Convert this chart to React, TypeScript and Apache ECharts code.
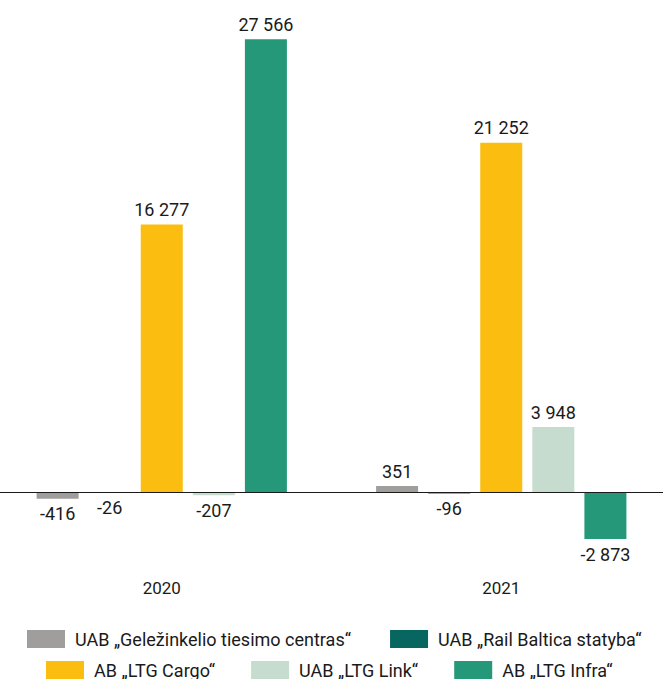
import React, { useEffect, useRef } from "react";
import * as echarts from "echarts";

const years = ["2020", "2021"];
const seriesNames = [
  "UAB „Geležinkelio tiesimo centras“",
  "UAB „Rail Baltica statyba“",
  "AB „LTG Cargo“",
  "UAB „LTG Link“",
  "AB „LTG Infra“",
];
const gtcValues = [-416, 351];
const rbsValues = [-26, -96];
const cargoValues = [16277, 21252];
const linkValues = [-207, 3948];
const infraValues = [27566, -2873];
const colors = ["#9f9e9d", "#076660", "#fbbd0f", "#c6dccf", "#25987a"];

const FONT = "Roboto, sans-serif";

function fmt(v: number): string {
  const s = Math.abs(v).toString().replace(/\B(?=(\d{3})+(?!\d))/g, " ");
  return (v < 0 ? "-" : "") + s;
}

export default function App() {
  const ref = useRef<HTMLDivElement>(null);
  useEffect(() => {
    if (!ref.current) return;
    const chart = echarts.init(ref.current, undefined, { renderer: "svg" });
    const all = [gtcValues, rbsValues, cargoValues, linkValues, infraValues];
    const series: any[] = all.map((vals, i) => ({
      name: seriesNames[i],
      type: "bar",
      barWidth: 42,
      barGap: "24%",
      itemStyle: { color: colors[i] },
      data: vals.map((v) => ({
        value: v,
        label: { position: v < 0 ? "bottom" : "top" },
      })),
      label: {
        show: true,
        distance: 6,
        fontFamily: FONT,
        fontSize: 18,
        color: "#1a1a1a",
        formatter: (p: any) => fmt(p.value),
      },
      ...(i === 0
        ? {
            markLine: {
              silent: true,
              symbol: "none",
              label: { show: false },
              lineStyle: { color: "#1a1a1a", width: 1.2, type: "solid" },
              data: [{ yAxis: 0 }],
              z: 10,
            },
          }
        : {}),
    }));
    const legendText = { fontFamily: FONT, fontSize: 18, color: "#1a1a1a", padding: [0, 0, 0, 5] };
    chart.setOption({
      animation: false,
      grid: { left: 0, right: 0, top: 32, height: 542 },
      xAxis: {
        type: "category",
        data: years,
        axisLine: { show: false, onZero: false },
        axisTick: { show: false },
        axisLabel: { fontFamily: FONT, fontSize: 17, color: "#1a1a1a", margin: 5 },
      },
      yAxis: {
        type: "value",
        min: -5000,
        max: 28000,
        show: false,
        splitLine: { show: false },
      },
      legend: [
        {
          data: seriesNames.slice(0, 2),
          left: 30,
          top: 625,
          icon: "rect",
          itemWidth: 38,
          itemHeight: 18,
          itemGap: 39,
          textStyle: legendText,
        },
        {
          data: seriesNames.slice(2),
          left: 49,
          top: 656,
          icon: "rect",
          itemWidth: 38,
          itemHeight: 18,
          itemGap: 36,
          textStyle: legendText,
        },
      ],
      series,
    });
    return () => chart.dispose();
  }, []);
  return (
    <div
      ref={ref}
      style={{ position: "fixed", left: -8, top: 0, width: 679, height: 679, background: "#fff" }}
    />
  );
}
